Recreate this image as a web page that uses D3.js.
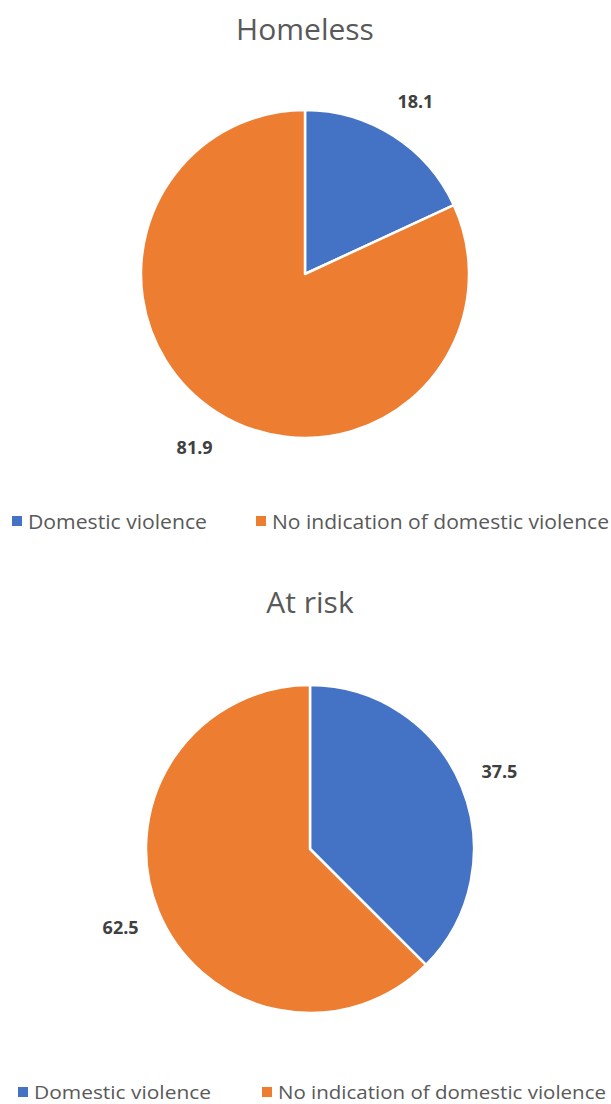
<!DOCTYPE html>
<html>
<head>
<meta charset="utf-8">
<script src="https://cdn.jsdelivr.net/npm/d3@7"></script>
<style>
  body { margin: 0; background: #fff; }
  svg text { font-family: "Open Sans", "Liberation Sans", sans-serif; }
</style>
</head>
<body>
<svg id="chart" width="611" height="1104"></svg>
<script>
// data
const categories = ["Domestic violence", "No indication of domestic violence"];
const titles = ["Homeless", "At risk"];
const homelessValues = [18.1, 81.9];
const atRiskValues = [37.5, 62.5];
const colors = ["#4472C4", "#ED7D31"];

const svg = d3.select("#chart");
const R = 164;

const panels = [
    { title: titles[0], values: homelessValues, cx: 305, cy: 274, titleY: 40, legendY: 521, legendX: 12, fs: 20, textW: [179, 337] },
    { title: titles[1], values: atRiskValues, cx: 310, cy: 849, titleY: 613, legendY: 1092, legendX: 18, fs: 19, textW: [177, 328] }
];

const pie = d3.pie().sort(null).value(d => d);
const arc = d3.arc().innerRadius(0).outerRadius(R);
const labelArc = d3.arc().innerRadius(R * 1.25).outerRadius(R * 1.25);

panels.forEach(p => {
    svg.append("text")
        .attr("x", p.cx)
        .attr("y", p.titleY)
        .attr("text-anchor", "middle")
        .attr("font-size", 30)
        .attr("fill", "#595959")
        .text(p.title);

    const g = svg.append("g").attr("transform", `translate(${p.cx},${p.cy})`);
    const arcs = pie(p.values);

    g.selectAll("path")
        .data(arcs)
        .join("path")
        .attr("d", arc)
        .attr("fill", (d, i) => colors[i])
        .attr("stroke", "#fff")
        .attr("stroke-width", 2.5)
        .attr("stroke-linejoin", "round");

    g.selectAll("text.val")
        .data(arcs)
        .join("text")
        .attr("class", "val")
        .attr("transform", d => `translate(${labelArc.centroid(d)})`)
        .attr("text-anchor", "middle")
        .attr("dominant-baseline", "central")
        .attr("font-size", 18)
        .attr("font-weight", "bold")
        .attr("fill", "#404040")
        .text(d => d.data.toFixed(1));

    // legend
    const legend = svg.append("g").attr("transform", `translate(${p.legendX},${p.legendY})`);
    const itemX = [0, 244];
    categories.forEach((c, i) => {
        legend.append("rect")
            .attr("x", itemX[i])
            .attr("y", -5)
            .attr("width", 10)
            .attr("height", 10)
            .attr("fill", colors[i]);
        legend.append("text")
            .attr("x", itemX[i] + 16)
            .attr("y", 0)
            .attr("dominant-baseline", "central")
            .attr("font-size", p.fs)
            .attr("fill", "#595959")
            .attr("textLength", p.textW[i])
            .attr("lengthAdjust", "spacingAndGlyphs")
            .text(c);
    });
});
</script>
</body>
</html>
